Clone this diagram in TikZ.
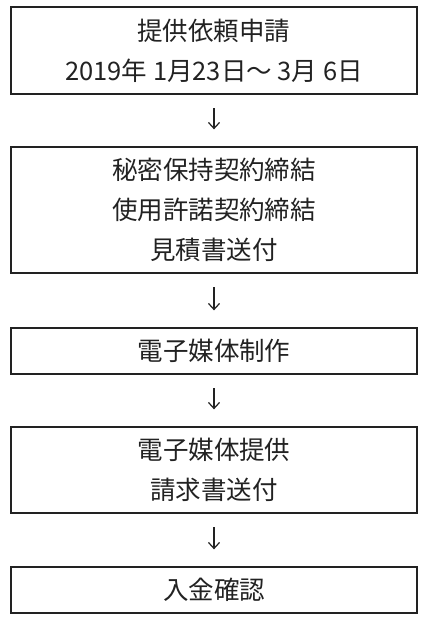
\documentclass[tikz,border=0pt]{standalone}
\usepackage{fontspec}
\usepackage{xcolor}
\usepackage{tikz}
\usetikzlibrary{positioning,arrows.meta}
\newfontfamily\jpfont{Noto Sans CJK JP}
\definecolor{ink}{RGB}{34,34,34}

\begin{document}
\begin{tikzpicture}[x=1pt, y=-1pt,
  every node/.style={font=\jpfont\fontsize{25.5}{40}\selectfont, text=ink},
  stepbox/.style={rectangle, draw=ink, line width=1.3pt, minimum width=406pt, align=center, inner sep=0pt},
  flow/.style={draw=ink, line width=1.2pt, -{Straight Barb[length=6pt, width=11pt, line width=1.2pt]}, shorten <=13.5pt, shorten >=17pt}
]
  \useasboundingbox (0,0) rectangle (428,630);

  \node[stepbox, minimum height=87pt]  (request) at (214, 50.5) {提供依頼申請\\2019年 1月23日～ 3月 6日};
  \node[stepbox, minimum height=126pt] (contract) at (214, 210) {秘密保持契約締結\\使用許諾契約締結\\見積書送付};
  \node[stepbox, minimum height=46pt]  (media) at (214, 351) {電子媒体制作};
  \node[stepbox, minimum height=86pt]  (deliver) at (214, 470) {電子媒体提供\\請求書送付};
  \node[stepbox, minimum height=46pt]  (payment) at (214, 590) {入金確認};

  \draw[flow] (request) -- (contract);
  \draw[flow] (contract) -- (media);
  \draw[flow] (media) -- (deliver);
  \draw[flow] (deliver) -- (payment);
\end{tikzpicture}
\end{document}
